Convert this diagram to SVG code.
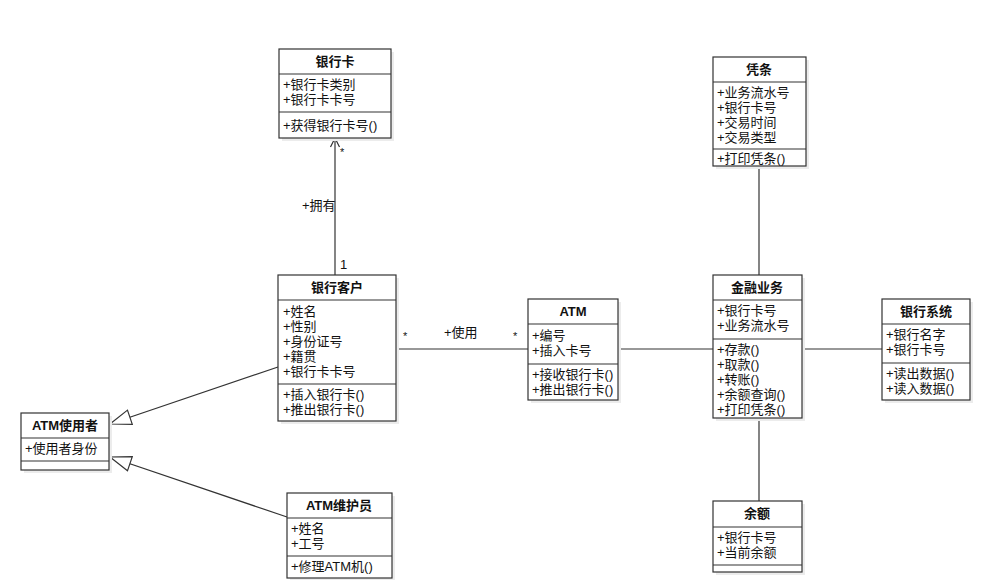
<svg xmlns="http://www.w3.org/2000/svg" width="1000" height="580" viewBox="0 0 1000 580">
<style>
.box{fill:#fff;stroke:#333;stroke-width:1.2}
.sh{fill:#ececec}
.sep{stroke:#333;stroke-width:1.2}
.t{font-family:"Liberation Sans","Noto Sans CJK SC",sans-serif;font-size:13px;fill:#111}
.h{font-family:"Liberation Sans","Noto Sans CJK SC",sans-serif;font-size:13px;font-weight:bold;fill:#111;text-anchor:middle}
.c{stroke:#333;stroke-width:1.2;fill:none}
.lbl{font-family:"Liberation Sans","Noto Sans CJK SC",sans-serif;font-size:13px;fill:#111}
.st{font-family:"Liberation Sans",sans-serif;font-size:11px;fill:#111}
</style>
<defs>
<marker id="gen" viewBox="-22 -9 24 18" refX="0" refY="0" markerWidth="24" markerHeight="18" markerUnits="userSpaceOnUse" orient="auto">
<path d="M0,0 L-21,-7.5 L-21,7.5 Z" fill="#fff" stroke="#333" stroke-width="1.2"/>
</marker>
<marker id="open" viewBox="-12 -6 14 12" refX="0" refY="0" markerWidth="14" markerHeight="12" markerUnits="userSpaceOnUse" orient="auto">
<path d="M-9,-4.5 L0,0 L-9,4.5" fill="none" stroke="#333" stroke-width="1.2"/>
</marker>
</defs>
<rect width="1000" height="580" fill="#fff"/>

<g id="connectors">
<line class="c" x1="335" y1="276" x2="335" y2="138" marker-end="url(#open)"/>
<text class="st" x="340" y="156">*</text>
<text class="lbl" x="302" y="210">+拥有</text>
<text class="lbl" x="340" y="269">1</text>
<line class="c" x1="396" y1="349" x2="528" y2="349"/>
<text class="st" x="403" y="340">*</text>
<text class="lbl" x="444" y="337">+使用</text>
<text class="st" x="513" y="340">*</text>
<line class="c" x1="618" y1="349" x2="713" y2="349"/>
<line class="c" x1="802" y1="349" x2="882" y2="349"/>
<line class="c" x1="759" y1="166" x2="759" y2="275"/>
<line class="c" x1="759" y1="418" x2="759" y2="501"/>
<line class="c" x1="278" y1="367" x2="110" y2="424" marker-end="url(#gen)"/>
<line class="c" x1="287" y1="517" x2="110" y2="457" marker-end="url(#gen)"/>
</g>

<g id="bankcard">
<rect class="sh" x="282" y="52" width="112" height="89"/>
<rect class="box" x="279" y="49" width="112" height="89"/>
<line class="sep" x1="279" y1="74" x2="391" y2="74"/>
<line class="sep" x1="279" y1="112" x2="391" y2="112"/>
<text class="h" x="335" y="66">银行卡</text>
<text class="t" x="283" y="89">+银行卡类别</text>
<text class="t" x="283" y="104">+银行卡卡号</text>
<text class="t" x="283" y="130">+获得银行卡号()</text>
</g>

<g id="customer">
<rect class="sh" x="281" y="278" width="118" height="146"/>
<rect class="box" x="278" y="275" width="118" height="146"/>
<line class="sep" x1="278" y1="300" x2="396" y2="300"/>
<line class="sep" x1="278" y1="384" x2="396" y2="384"/>
<text class="h" x="337" y="292">银行客户</text>
<text class="t" x="283" y="316">+姓名</text>
<text class="t" x="283" y="331">+性别</text>
<text class="t" x="283" y="346">+身份证号</text>
<text class="t" x="283" y="361">+籍贯</text>
<text class="t" x="283" y="376">+银行卡卡号</text>
<text class="t" x="283" y="399">+插入银行卡()</text>
<text class="t" x="283" y="414">+推出银行卡()</text>
</g>

<g id="atm">
<rect class="sh" x="531" y="302" width="90" height="101"/>
<rect class="box" x="528" y="299" width="90" height="101"/>
<line class="sep" x1="528" y1="324" x2="618" y2="324"/>
<line class="sep" x1="528" y1="364" x2="618" y2="364"/>
<text class="h" x="573" y="316">ATM</text>
<text class="t" x="532" y="340">+编号</text>
<text class="t" x="532" y="355">+插入卡号</text>
<text class="t" x="532" y="379">+接收银行卡()</text>
<text class="t" x="532" y="394">+推出银行卡()</text>
</g>

<g id="finance">
<rect class="sh" x="716" y="278" width="89" height="143"/>
<rect class="box" x="713" y="275" width="89" height="143"/>
<line class="sep" x1="713" y1="300" x2="802" y2="300"/>
<line class="sep" x1="713" y1="339" x2="802" y2="339"/>
<text class="h" x="757" y="292">金融业务</text>
<text class="t" x="717" y="315">+银行卡号</text>
<text class="t" x="717" y="330">+业务流水号</text>
<text class="t" x="717" y="354">+存款()</text>
<text class="t" x="717" y="369">+取款()</text>
<text class="t" x="717" y="384">+转账()</text>
<text class="t" x="717" y="399">+余额查询()</text>
<text class="t" x="717" y="414">+打印凭条()</text>
</g>

<g id="receipt">
<rect class="sh" x="716" y="60" width="93" height="109"/>
<rect class="box" x="713" y="57" width="93" height="109"/>
<line class="sep" x1="713" y1="82" x2="806" y2="82"/>
<line class="sep" x1="713" y1="149" x2="806" y2="149"/>
<text class="h" x="759" y="74">凭条</text>
<text class="t" x="717" y="97">+业务流水号</text>
<text class="t" x="717" y="112">+银行卡号</text>
<text class="t" x="717" y="127">+交易时间</text>
<text class="t" x="717" y="142">+交易类型</text>
<text class="t" x="717" y="163">+打印凭条()</text>
</g>

<g id="banksystem">
<rect class="sh" x="885" y="302" width="88" height="101"/>
<rect class="box" x="882" y="299" width="88" height="101"/>
<line class="sep" x1="882" y1="324" x2="970" y2="324"/>
<line class="sep" x1="882" y1="363" x2="970" y2="363"/>
<text class="h" x="926" y="316">银行系统</text>
<text class="t" x="886" y="339">+银行名字</text>
<text class="t" x="886" y="354">+银行卡号</text>
<text class="t" x="886" y="378">+读出数据()</text>
<text class="t" x="886" y="393">+读入数据()</text>
</g>

<g id="balance">
<rect class="sh" x="716" y="504" width="89" height="71"/>
<rect class="box" x="713" y="501" width="89" height="71"/>
<line class="sep" x1="713" y1="527" x2="802" y2="527"/>
<line class="sep" x1="713" y1="565" x2="802" y2="565"/>
<text class="h" x="757" y="518">余额</text>
<text class="t" x="717" y="542">+银行卡号</text>
<text class="t" x="717" y="557">+当前余额</text>
</g>

<g id="atmuser">
<rect class="sh" x="24" y="416" width="88" height="57"/>
<rect class="box" x="21" y="413" width="88" height="57"/>
<line class="sep" x1="21" y1="438" x2="109" y2="438"/>
<line class="sep" x1="21" y1="461" x2="109" y2="461"/>
<text class="h" x="65" y="430">ATM使用者</text>
<text class="t" x="25" y="453">+使用者身份</text>
</g>

<g id="maintainer">
<rect class="sh" x="290" y="496" width="105" height="85"/>
<rect class="box" x="287" y="493" width="105" height="85"/>
<line class="sep" x1="287" y1="518" x2="392" y2="518"/>
<line class="sep" x1="287" y1="556" x2="392" y2="556"/>
<text class="h" x="339" y="510">ATM维护员</text>
<text class="t" x="291" y="533">+姓名</text>
<text class="t" x="291" y="548">+工号</text>
<text class="t" x="291" y="571">+修理ATM机()</text>
</g>
</svg>
